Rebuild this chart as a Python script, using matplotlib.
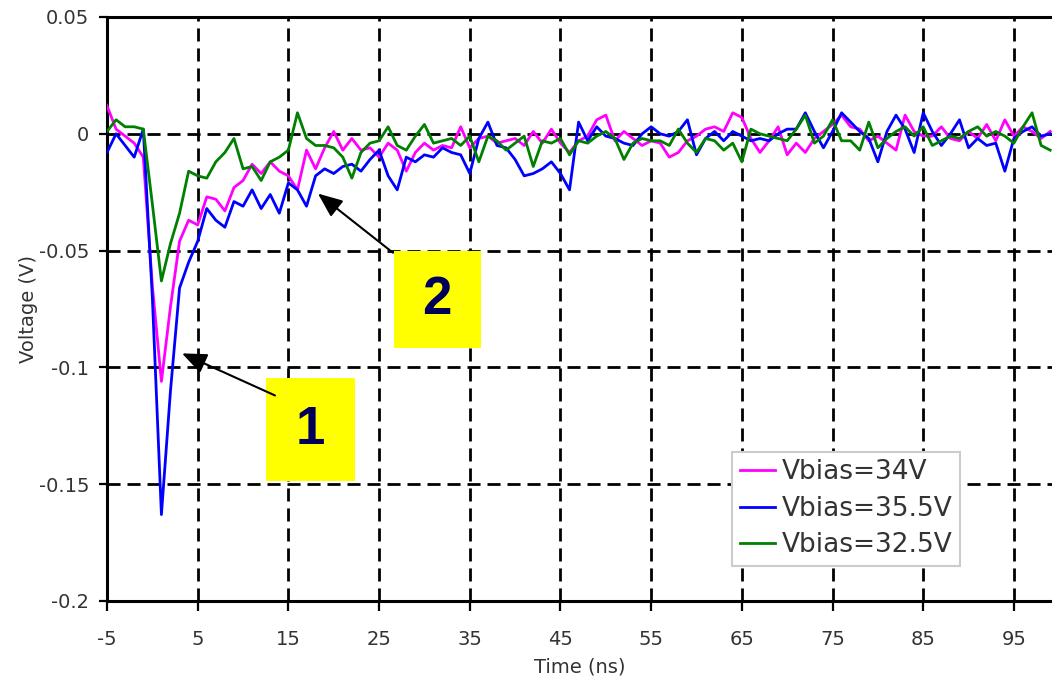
import matplotlib
matplotlib.use('Agg')
import matplotlib.pyplot as plt
from matplotlib.patches import Rectangle

# tiempo en ns (paso de 1 ns)
tiempo = list(range(-5, 100))

# Vbias = 34 V (magenta)
v34 = [0.012, 0.002, -0.001, -0.004, -0.010, -0.065, -0.106, -0.074, -0.046, -0.037,
       -0.039, -0.027, -0.028, -0.033, -0.023, -0.020, -0.013, -0.017, -0.012, -0.016,
       -0.018, -0.024, -0.007, -0.015, -0.006, 0.001, -0.007, -0.002, -0.007, -0.006,
       -0.010, -0.004, -0.007, -0.016, -0.008, -0.004, -0.007, -0.005, -0.006, 0.003,
       -0.006, -0.002, -0.001, -0.004, -0.003, -0.002, -0.005, 0.001, -0.004, 0.002,
       -0.004, -0.008, -0.003, -0.001, 0.006, 0.008, -0.003, 0.001, -0.002, -0.005,
       -0.003, -0.004, -0.010, -0.008, -0.003, -0.001, 0.002, 0.003, 0.001, 0.009,
       0.007, -0.002, -0.008, -0.003, 0.003, -0.009, -0.004, -0.008, -0.002, 0.001,
       0.004, 0.008, 0.003, 0.002, -0.003, -0.001, -0.004, -0.007, 0.008, 0.001,
       -0.001, -0.001, 0.003, -0.002, -0.003, 0.001, -0.002, 0.004, -0.003, 0.006,
       -0.001, 0.003, 0.001, -0.002, 0.001]

# Vbias = 35.5 V (azul)
v355 = [-0.008, 0.000, -0.005, -0.010, 0.002, -0.070, -0.163, -0.110, -0.066, -0.055,
        -0.046, -0.032, -0.037, -0.040, -0.029, -0.031, -0.024, -0.032, -0.026, -0.034,
        -0.021, -0.024, -0.031, -0.018, -0.015, -0.017, -0.014, -0.013, -0.016, -0.011,
        -0.007, -0.018, -0.024, -0.010, -0.012, -0.009, -0.010, -0.006, -0.008, -0.009,
        -0.017, -0.002, 0.005, -0.005, -0.006, -0.011, -0.018, -0.017, -0.015, -0.012,
        -0.017, -0.024, 0.005, -0.003, 0.003, -0.001, -0.002, -0.004, -0.005, 0.000,
        0.003, 0.000, -0.001, 0.001, 0.006, -0.009, -0.002, 0.001, -0.003, 0.001,
        -0.001, -0.003, -0.002, -0.003, 0.000, 0.002, 0.002, 0.009, 0.001, -0.006,
        0.001, 0.009, 0.005, 0.001, -0.002, -0.012, 0.001, 0.008, 0.002, -0.008,
        0.009, 0.001, -0.005, 0.000, 0.006, -0.006, -0.002, -0.005, -0.004, -0.016,
        -0.002, 0.001, 0.003, -0.001, 0.000]

# Vbias = 32.5 V (verde)
v325 = [0.001, 0.006, 0.003, 0.003, 0.002, -0.030, -0.063, -0.047, -0.034, -0.016,
        -0.018, -0.019, -0.012, -0.008, -0.002, -0.015, -0.014, -0.020, -0.012, -0.010,
        -0.007, 0.009, -0.002, -0.005, -0.005, -0.006, -0.010, -0.019, -0.008, -0.004,
        -0.003, 0.003, -0.005, -0.007, -0.001, 0.004, -0.004, -0.003, -0.002, -0.005,
        -0.001, -0.012, -0.001, -0.003, -0.007, -0.004, -0.001, -0.014, -0.003, -0.004,
        -0.002, -0.009, -0.003, -0.004, -0.001, 0.001, -0.002, -0.011, -0.004, -0.002,
        -0.003, -0.003, -0.005, 0.002, -0.004, -0.008, -0.002, -0.003, -0.007, -0.004,
        -0.012, 0.002, 0.000, -0.001, -0.002, -0.003, 0.002, 0.008, -0.004, -0.001,
        0.006, -0.003, -0.003, -0.007, 0.005, -0.006, -0.002, 0.001, 0.003, -0.001,
        0.003, -0.005, -0.003, -0.001, -0.002, 0.001, 0.003, -0.001, 0.001, -0.001,
        -0.004, 0.003, 0.009, -0.005, -0.007]

xticks = list(range(-5, 100, 10))
yticks = [-0.2, -0.15, -0.1, -0.05, 0, 0.05]
yticklabels = ['-0.2', '-0.15', '-0.1', '-0.05', '0', '0.05']

# Figura
fig = plt.figure(figsize=(10.52, 6.8), dpi=100)
ax = fig.add_axes([107/1052, 1-601/680, 1-107/1052, 584/680])

ax.plot(tiempo, v34, color='#FF00FF', lw=2, label='Vbias=34V', zorder=3)
ax.plot(tiempo, v355, color='#0000FF', lw=2, label='Vbias=35.5V', zorder=3)
ax.plot(tiempo, v325, color='#008000', lw=2, label='Vbias=32.5V', zorder=3)

ax.set_xlim(-5, 99.2)
ax.set_ylim(-0.2, 0.05)
ax.set_xticks(xticks)
ax.set_xticklabels([str(t) for t in xticks])
ax.set_yticks(yticks)
ax.set_yticklabels(yticklabels)

# Rejilla discontinua negra
ax.grid(True, color='black', lw=2, linestyle=(0, (4.7, 2.5)), zorder=1)
ax.set_axisbelow(True)

for s in ['left', 'bottom', 'top']:
    ax.spines[s].set_linewidth(2.2)
ax.spines['right'].set_visible(False)

ax.tick_params(axis='x', direction='out', length=7.2, width=1.6, pad=14,
               labelsize=14, labelcolor='#333333')
ax.tick_params(axis='y', direction='out', length=5.8, width=1.6, pad=7,
               labelsize=14, labelcolor='#333333')

ax.set_xlabel('Time (ns)', fontsize=14, color='#333333')
ax.set_ylabel('Voltage (V)', fontsize=14, color='#333333')
ax.xaxis.set_label_coords(0.5, -0.096)
ax.yaxis.set_label_coords(-0.073, 0.5)

# Leyenda
leg = ax.legend(loc='lower left', bbox_to_anchor=(0.661, 0.06), borderaxespad=0,
                fontsize=19, fancybox=False, framealpha=1, borderpad=0.3,
                labelspacing=0.39, handlelength=1.33, handletextpad=0.27)
leg.get_frame().set_edgecolor('#CCCCCC')
leg.get_frame().set_linewidth(1.5)
for t in leg.get_texts():
    t.set_color('#333333')

# Cajas amarillas con numeros
ax.add_patch(Rectangle((12.53, -0.1487), 9.81, 0.044, facecolor='#FFFF00',
                       edgecolor='none', zorder=4))
ax.text(17.4, -0.1267, '1', ha='center', va='center', fontsize=38,
        fontweight='bold', family='Liberation Sans', color='#00005A', zorder=5)
ax.add_patch(Rectangle((26.64, -0.0919), 9.59, 0.0419, facecolor='#FFFF00',
                       edgecolor='none', zorder=4))
ax.text(31.4, -0.071, '2', ha='center', va='center', fontsize=38,
        fontweight='bold', family='Liberation Sans', color='#00005A', zorder=5)

# Flechas
flecha = dict(arrowstyle='-|>,head_length=0.6,head_width=0.25', color='black',
              lw=1.5, mutation_scale=25, shrinkA=0, shrinkB=0)
ax.annotate('', xy=(3.27, -0.094), xytext=(13.52, -0.112), arrowprops=flecha, zorder=6)
ax.annotate('', xy=(18.26, -0.0256), xytext=(26.53, -0.0509), arrowprops=flecha, zorder=6)

plt.savefig('out.png', dpi=100)
